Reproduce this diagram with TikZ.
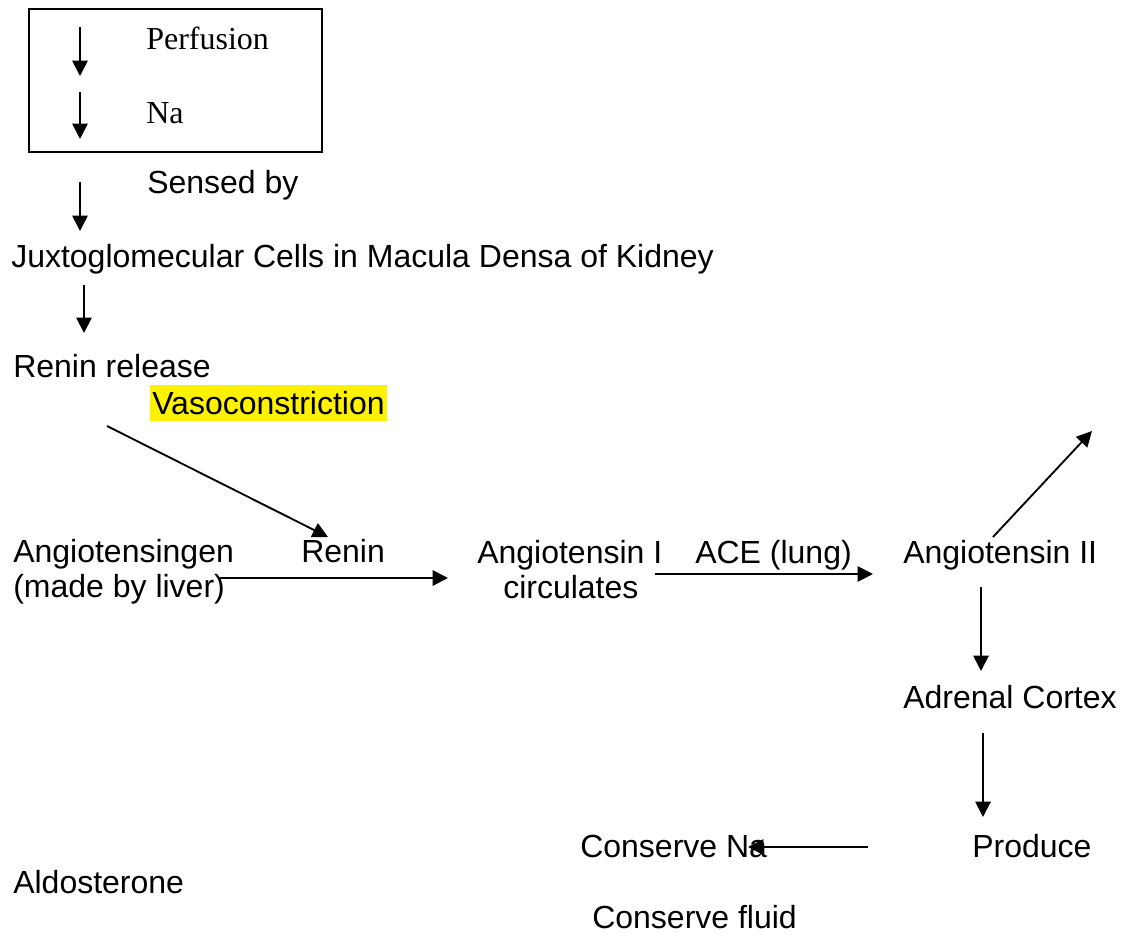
\documentclass[tikz,border=0pt]{standalone}
\usepackage{fontspec}
\setmainfont{Liberation Sans}
\newfontfamily\timesfont{Liberation Serif}
\usetikzlibrary{arrows.meta}

\tikzset{
  lbl/.style={anchor=base west, inner sep=0pt, font=\fontsize{24}{28}\selectfont},
  serif/.style={lbl, font=\timesfont\fontsize{24}{28}\selectfont},
  arr/.style={line width=1.4pt, -{Triangle[length=11.5pt,width=11.5pt]}}
}

\begin{document}
\begin{tikzpicture}[x=0.75pt,y=-0.75pt]
\useasboundingbox (0,0) rectangle (1121,935);
% box with the two falls
\draw[line width=1.3pt] (29,9) rectangle (322,152);
\node[serif] (perf) at (146,49) {Perfusion};
\node[serif] (na) at (146,123) {Na};
\coordinate (p1) at (80,27);  \coordinate (p2) at (80,76);
\coordinate (n1) at (80,92);  \coordinate (n2) at (80,139);
\draw[arr] (p1) -- (p2);
\draw[arr] (n1) -- (n2);
% chain down the left side
\node[lbl] (sensed) at (147,193) {Sensed by};
\node[lbl] (juxta) at (11,267) {Juxtoglomecular Cells in Macula Densa of Kidney};
\node[lbl] (release) at (13,377) {Renin release};
\node[lbl, fill=yellow, inner xsep=1.5pt, text height=21.5pt, text depth=5.5pt] (vaso) at (150,414) {Vasoconstriction};
\coordinate (s1) at (80,182); \coordinate (s2) at (80,231);
\coordinate (j1) at (84,285); \coordinate (j2) at (84,333);
\draw[arr] (s1) -- (s2);
\draw[arr] (j1) -- (j2);
% middle row
\node[lbl] (gen) at (13,562) {Angiotensingen};
\node[lbl] (liver) at (13,597) {(made by liver)};
\node[lbl] (renin) at (301,562) {Renin};
\node[lbl] (ang1) at (477,563) {Angiotensin I};
\node[lbl] (circ) at (503,598) {circulates};
\node[lbl] (ace) at (695,563) {ACE (lung)};
\node[lbl] (ang2) at (903,563) {Angiotensin II};
\coordinate (r1) at (107,426); \coordinate (r2) at (328,537);
\coordinate (g1) at (220,578); \coordinate (g2) at (448,578);
\coordinate (c1) at (655,574); \coordinate (c2) at (873,574);
\coordinate (u1) at (993,537); \coordinate (u2) at (1092,431);
\draw[arr] (r1) -- (r2);
\draw[arr] (g1) -- (g2);
\draw[arr] (c1) -- (c2);
\draw[arr] (u1) -- (u2);
% right column and bottom
\node[lbl] (adrenal) at (903,708) {Adrenal Cortex};
\node[lbl] (produce) at (972,857) {Produce};
\node[lbl] (consna) at (580,857) {Conserve Na};
\node[lbl] (aldo) at (13,893) {Aldosterone};
\node[lbl] (consfl) at (592,928) {Conserve fluid};
\coordinate (d1) at (981,587); \coordinate (d2) at (981,671);
\coordinate (e1) at (983,733); \coordinate (e2) at (983,817);
\coordinate (k1) at (868,847); \coordinate (k2) at (748,847);
\draw[arr] (d1) -- (d2);
\draw[arr] (e1) -- (e2);
\draw[arr] (k1) -- (k2);
\end{tikzpicture}
\end{document}
